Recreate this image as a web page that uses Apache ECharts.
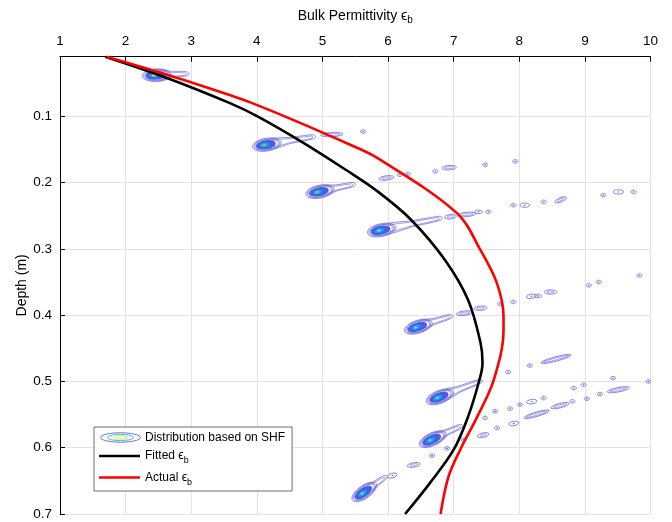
<!DOCTYPE html>
<html><head><meta charset="utf-8">
<script src="https://cdn.jsdelivr.net/npm/echarts@6/dist/echarts.min.js"></script>
<style>html,body{margin:0;padding:0;background:#fff}#c{width:672px;height:522px}</style>
</head><body><div id="c"></div>
<script>
// ---- tick values ----
const epsTicks = [1, 2, 3, 4, 5, 6, 7, 8, 9, 10];
const depthTicks = [0.1, 0.2, 0.3, 0.4, 0.5, 0.6, 0.7];

// ---- fitted permittivity profile (black) ----
const fittedEps   = [1.69, 2.63, 3.59, 4.01, 4.71, 5.36, 5.85, 6.35, 6.87, 7.22, 7.41, 7.44, 7.38, 7.22, 7.00, 6.64, 6.26];
const fittedDepth = [0.010, 0.042, 0.080, 0.100, 0.140, 0.181, 0.214, 0.256, 0.317, 0.377, 0.442, 0.472, 0.502, 0.553, 0.603, 0.653, 0.700];

// ---- actual permittivity profile (red) ----
const actualEps   = [1.71, 2.66, 3.65, 3.93, 4.57, 5.38, 5.84, 7.05, 7.41, 7.66, 7.76, 7.76, 7.61, 7.36, 7.10, 6.92, 6.80];
const actualDepth = [0.010, 0.038, 0.070, 0.080, 0.106, 0.141, 0.163, 0.246, 0.302, 0.352, 0.402, 0.422, 0.498, 0.553, 0.603, 0.644, 0.700];

// ---- SHF distribution: main peaks (centre eps, centre depth, tail-end eps, tail-end depth, relative peak) ----
const peakEps       = [2.45, 4.13, 4.94, 5.88, 6.44, 6.77, 6.66, 5.62];
const peakDepth     = [0.038, 0.143, 0.214, 0.272, 0.418, 0.524, 0.588, 0.668];
const peakTailEps   = [2.93, 4.86, 5.47, 6.79, 6.95, 7.40, 7.10, 5.95];
const peakTailDepth = [0.036, 0.131, 0.203, 0.254, 0.402, 0.500, 0.568, 0.645];
const peakLevel     = [1.00, 0.85, 0.80, 0.60, 0.60, 0.60, 0.62, 0.58];

// ---- SHF distribution: small contour islands [eps1, depth1, eps2, depth2] ----
const islandSegments = [
  [5.01, 0.128, 5.27, 0.127], [5.62, 0.123, 5.62, 0.123],
  [5.90, 0.194, 6.05, 0.192], [6.18, 0.188, 6.18, 0.188], [6.30, 0.187, 6.30, 0.187],
  [6.72, 0.183, 6.72, 0.183], [6.86, 0.178, 7.00, 0.177], [7.48, 0.173, 7.48, 0.173], [7.94, 0.168, 7.94, 0.168],
  [6.90, 0.252, 7.00, 0.251], [7.10, 0.249, 7.30, 0.247], [7.36, 0.244, 7.40, 0.244], [7.53, 0.244, 7.53, 0.244],
  [7.91, 0.234, 7.91, 0.234], [8.05, 0.234, 8.12, 0.234], [8.37, 0.229, 8.37, 0.229], [8.58, 0.228, 8.68, 0.224],
  [9.28, 0.219, 9.28, 0.219], [9.47, 0.214, 9.55, 0.214], [9.74, 0.214, 9.74, 0.214],
  [7.08, 0.398, 7.25, 0.396], [7.35, 0.390, 7.47, 0.389], [7.71, 0.383, 7.71, 0.383], [7.91, 0.380, 7.91, 0.380],
  [8.15, 0.372, 8.22, 0.371], [8.27, 0.371, 8.30, 0.371], [8.42, 0.365, 8.53, 0.365], [9.06, 0.355, 9.06, 0.355],
  [9.21, 0.350, 9.21, 0.350], [9.83, 0.340, 9.83, 0.340],
  [7.83, 0.486, 7.83, 0.486], [8.16, 0.476, 8.16, 0.476], [8.37, 0.471, 8.75, 0.461],
  [7.48, 0.555, 7.48, 0.555], [7.63, 0.545, 7.63, 0.545], [7.86, 0.541, 7.86, 0.541], [8.01, 0.535, 8.01, 0.535],
  [8.15, 0.531, 8.23, 0.530], [8.37, 0.525, 8.37, 0.525], [8.83, 0.510, 8.83, 0.510], [8.98, 0.505, 8.98, 0.505],
  [9.43, 0.495, 9.43, 0.495], [9.97, 0.500, 9.97, 0.500],
  [7.66, 0.570, 7.66, 0.570], [7.88, 0.564, 7.95, 0.563], [8.11, 0.554, 8.42, 0.545], [8.52, 0.539, 8.72, 0.534],
  [8.81, 0.530, 8.81, 0.530], [9.03, 0.526, 9.03, 0.526], [9.23, 0.519, 9.23, 0.519], [9.38, 0.515, 9.64, 0.510],
  [6.03, 0.643, 6.10, 0.641], [6.33, 0.627, 6.45, 0.625], [6.67, 0.612, 6.67, 0.612], [6.90, 0.601, 6.90, 0.601],
  [7.15, 0.588, 7.15, 0.588], [7.40, 0.582, 7.50, 0.580]
];

const FONT = '"Liberation Sans", Arial, Helvetica, sans-serif';
const CONTOUR = '#6b6bdc';

const chart = echarts.init(document.getElementById('c'), null, {renderer: 'canvas'});

const peakData = peakEps.map((e, i) => [e, peakDepth[i], peakTailEps[i], peakTailDepth[i], peakLevel[i]]);

function renderPeak(params, api) {
  const p0 = api.coord([api.value(0), api.value(1)]);
  const p1 = api.coord([api.value(2), api.value(3)]);
  const lvl = api.value(4);
  const dx = p1[0] - p0[0], dy = p1[1] - p0[1];
  const L = Math.hypot(dx, dy);
  const rot = Math.atan2(-dy, dx);
  const ch = [];
  const st = (w) => ({fill: 'none', stroke: CONTOUR, lineWidth: w || 0.7});
  ch.push({type: 'polygon', shape: {points: [[4, -4.6], [L * 0.55, -3.2], [L, -2.2], [L + 2.5, 0], [L, 2.0], [L * 0.55, 2.7], [4, 4.6]], smooth: 0.35}, style: st(0.7)});
  ch.push({type: 'polygon', shape: {points: [[6, -3.0], [L * 0.55, -2.0], [L - 2, -1.2], [L, 0], [L - 2, 1.2], [L * 0.55, 1.7], [6, 3.0]], smooth: 0.35}, style: st(0.6)});
  [[14.5, 6.4], [13.0, 5.7], [11.6, 5.1]].forEach(r => ch.push({type: 'ellipse', shape: {cx: 1.5, cy: 0, rx: r[0], ry: r[1]}, style: st(0.7)}));
  ch.push({type: 'ellipse', shape: {cx: 0.5, cy: 0, rx: 10, ry: 4.5}, style: {fill: '#5459e2'}});
  ch.push({type: 'ellipse', shape: {cx: 0, cy: 0, rx: 7.4, ry: 3.4}, style: {fill: '#3565ee'}});
  ch.push({type: 'ellipse', shape: {cx: -0.8, cy: 0, rx: 5.0, ry: 2.4}, style: {fill: '#2792e8'}});
  if (lvl > 0.55) ch.push({type: 'ellipse', shape: {cx: -1.2, cy: 0, rx: 3.1, ry: 1.6}, style: {fill: lvl > 0.7 ? '#26b3b0' : '#22b6d8'}});
  if (lvl > 0.75) ch.push({type: 'ellipse', shape: {cx: -1.2, cy: 0, rx: 1.8, ry: 1.0}, style: {fill: lvl > 0.9 ? '#f2e82a' : '#9cc850'}});
  if (lvl <= 0.75) ch.push({type: 'circle', shape: {cx: -1.2, cy: 0, r: 0.8}, style: {fill: '#ffffff'}});
  return {type: 'group', x: p0[0], y: p0[1], rotation: rot, children: ch};
}

function renderIsland(params, api) {
  const a = api.coord([api.value(0), api.value(1)]);
  const b = api.coord([api.value(2), api.value(3)]);
  const dx = b[0] - a[0], dy = b[1] - a[1];
  const L = Math.hypot(dx, dy);
  const rot = L > 0.5 ? Math.atan2(-dy, dx) : 0;
  const ch = [{type: 'ellipse', shape: {cx: 0, cy: 0, rx: L / 2 + 2.6, ry: L > 4 ? 2.2 : 1.8}, style: {fill: 'none', stroke: CONTOUR, lineWidth: 0.8}}];
  if (L > 6) ch.push({type: 'ellipse', shape: {cx: 0, cy: 0, rx: L / 2, ry: 1.0}, style: {fill: 'none', stroke: CONTOUR, lineWidth: 0.6}});
  else ch.push({type: 'ellipse', shape: {cx: 0, cy: 0, rx: 1.0, ry: 0.7}, style: {fill: CONTOUR}});
  return {type: 'group', x: (a[0] + b[0]) / 2, y: (a[1] + b[1]) / 2, rotation: rot, children: ch};
}

// ellipse outline as polygon points (for the legend key)
function ellipsePts(cx, cy, rx, ry) {
  const pts = [];
  for (let k = 0; k < 48; k++) { const t = k / 48 * Math.PI * 2; pts.push([cx + rx * Math.cos(t), cy + ry * Math.sin(t)]); }
  return pts;
}
const KEY_CX = 120.5, KEY_CY = 437.5;

const legendText = {
  dist: 'Distribution based on SHF',
  fit: 'Fitted {e|ϵ}{s|b}',
  act: 'Actual {e|ϵ}{s|b}'
};
const lineIcon = 'path://M0,0 H41 V2.6 H0 Z';

chart.setOption({
  animation: false,
  backgroundColor: '#ffffff',
  grid: {left: 60, right: 21.5, top: 56.7, bottom: 8, containLabel: false},
  xAxis: {
    type: 'value', position: 'top', min: 1, max: 10, interval: 1,
    name: '{t|Bulk Permittivity }{e|ϵ}{s|b}', nameLocation: 'middle', nameGap: 31, nameMoveOverlap: false,
    nameTextStyle: {fontFamily: FONT, color: '#000', fontSize: 14,
      rich: {t: {fontFamily: FONT, fontSize: 14, color: '#000'}, e: {fontFamily: FONT, fontSize: 14, color: '#000'}, s: {fontFamily: FONT, fontSize: 10, color: '#000', padding: [9, 0, 0, 0]}}},
    axisLine: {show: true, onZero: false, lineStyle: {color: '#000', width: 1}},
    axisTick: {show: true, inside: true, length: 5, customValues: epsTicks, lineStyle: {color: '#000', width: 1}},
    axisLabel: {show: true, customValues: epsTicks, margin: 8, color: '#000', fontSize: 13.5, fontFamily: FONT},
    splitLine: {show: true, lineStyle: {color: '#e2e2e2', width: 1}}
  },
  yAxis: {
    type: 'value', inverse: true, min: 0.01, max: 0.7,
    name: 'Depth (m)', nameLocation: 'middle', nameGap: 31, nameRotate: 90, nameMoveOverlap: false,
    nameTextStyle: {fontFamily: FONT, color: '#000', fontSize: 14},
    axisLine: {show: true, onZero: false, lineStyle: {color: '#000', width: 1}},
    axisTick: {show: true, inside: true, length: 5, customValues: depthTicks, lineStyle: {color: '#000', width: 1}},
    axisLabel: {show: true, customValues: depthTicks, margin: 8, color: '#000', fontSize: 13.5, fontFamily: FONT, formatter: v => v.toFixed(1)},
    splitLine: {show: true, lineStyle: {color: '#e2e2e2', width: 1}}
  },
  legend: {
    orient: 'vertical', left: 94, top: 427,
    backgroundColor: '#ffffff', borderColor: '#4a4a4a', borderWidth: 0.8, borderRadius: 0,
    padding: [5, 7, 4, 5], itemWidth: 41, itemHeight: 11, itemGap: 6,
    textStyle: {fontFamily: FONT, fontSize: 12, color: '#000',
      rich: {e: {fontFamily: FONT, fontSize: 12, color: '#000'}, s: {fontFamily: FONT, fontSize: 9, color: '#000', padding: [10, 0, 0, 0]}}},
    formatter: n => legendText[n],
    data: [
      {name: 'dist', icon: 'rect', itemStyle: {color: 'rgba(0,0,0,0)', borderWidth: 0}},
      {name: 'fit', icon: lineIcon, itemStyle: {color: '#000000', borderWidth: 0}},
      {name: 'act', icon: lineIcon, itemStyle: {color: '#ff0000', borderWidth: 0}}
    ]
  },
  graphic: [
    {type: 'polygon', z: 200, silent: true, shape: {points: ellipsePts(KEY_CX, KEY_CY, 20, 4.7)}, style: {fill: 'none', stroke: CONTOUR, lineWidth: 1}},
    {type: 'polygon', z: 200, silent: true, shape: {points: ellipsePts(KEY_CX, KEY_CY, 13, 3.1)}, style: {fill: 'none', stroke: '#2fc0cf', lineWidth: 1}},
    {type: 'polygon', z: 200, silent: true, shape: {points: ellipsePts(KEY_CX, KEY_CY, 7, 1.7)}, style: {fill: 'none', stroke: '#e4df2c', lineWidth: 1}}
  ],
  series: [
    {name: 'dist', type: 'custom', renderItem: renderIsland, data: islandSegments, encode: {x: 0, y: 1}, clip: true, z: 2, itemStyle: {color: CONTOUR}},
    {name: 'dist', type: 'custom', renderItem: renderPeak, data: peakData, encode: {x: 0, y: 1}, clip: true, z: 3, itemStyle: {color: CONTOUR}},
    {name: 'fit', type: 'line', data: fittedEps.map((e, i) => [e, fittedDepth[i]]), smooth: 0.35, symbol: 'none', clip: true, z: 5,
      lineStyle: {color: '#000000', width: 2.6}, itemStyle: {color: '#000000'}},
    {name: 'act', type: 'line', data: actualEps.map((e, i) => [e, actualDepth[i]]), smooth: 0.35, symbol: 'none', clip: true, z: 6,
      lineStyle: {color: '#ff0000', width: 2.6}, itemStyle: {color: '#ff0000'}}
  ]
});
</script>
</body></html>
